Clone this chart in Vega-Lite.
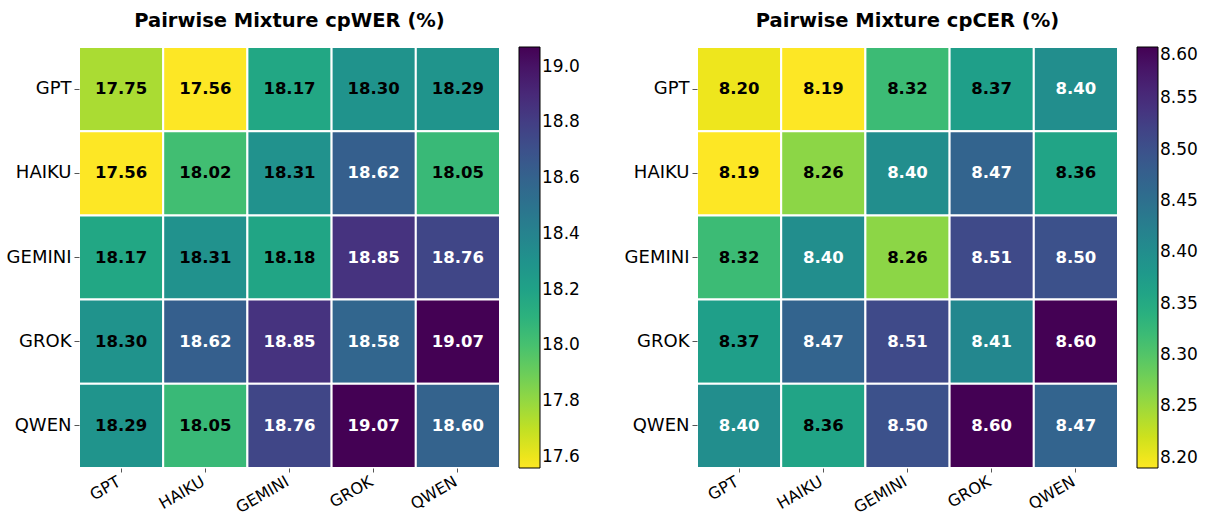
{
  "$schema": "https://vega.github.io/schema/vega-lite/v6.json",
  "padding": {"left": 6, "top": 10, "right": 5, "bottom": 0},
  "background": "white",
  "data": {"values": [
    {"row": "GPT", "col": "GPT", "wer": 17.75, "cer": 8.20},
    {"row": "GPT", "col": "HAIKU", "wer": 17.56, "cer": 8.19},
    {"row": "GPT", "col": "GEMINI", "wer": 18.17, "cer": 8.32},
    {"row": "GPT", "col": "GROK", "wer": 18.30, "cer": 8.37},
    {"row": "GPT", "col": "QWEN", "wer": 18.29, "cer": 8.40},
    {"row": "HAIKU", "col": "GPT", "wer": 17.56, "cer": 8.19},
    {"row": "HAIKU", "col": "HAIKU", "wer": 18.02, "cer": 8.26},
    {"row": "HAIKU", "col": "GEMINI", "wer": 18.31, "cer": 8.40},
    {"row": "HAIKU", "col": "GROK", "wer": 18.62, "cer": 8.47},
    {"row": "HAIKU", "col": "QWEN", "wer": 18.05, "cer": 8.36},
    {"row": "GEMINI", "col": "GPT", "wer": 18.17, "cer": 8.32},
    {"row": "GEMINI", "col": "HAIKU", "wer": 18.31, "cer": 8.40},
    {"row": "GEMINI", "col": "GEMINI", "wer": 18.18, "cer": 8.26},
    {"row": "GEMINI", "col": "GROK", "wer": 18.85, "cer": 8.51},
    {"row": "GEMINI", "col": "QWEN", "wer": 18.76, "cer": 8.50},
    {"row": "GROK", "col": "GPT", "wer": 18.30, "cer": 8.37},
    {"row": "GROK", "col": "HAIKU", "wer": 18.62, "cer": 8.47},
    {"row": "GROK", "col": "GEMINI", "wer": 18.85, "cer": 8.51},
    {"row": "GROK", "col": "GROK", "wer": 18.58, "cer": 8.41},
    {"row": "GROK", "col": "QWEN", "wer": 19.07, "cer": 8.60},
    {"row": "QWEN", "col": "GPT", "wer": 18.29, "cer": 8.40},
    {"row": "QWEN", "col": "HAIKU", "wer": 18.05, "cer": 8.36},
    {"row": "QWEN", "col": "GEMINI", "wer": 18.76, "cer": 8.50},
    {"row": "QWEN", "col": "GROK", "wer": 19.07, "cer": 8.60},
    {"row": "QWEN", "col": "QWEN", "wer": 18.60, "cer": 8.47}
  ]},
  "resolve": {"scale": {"color": "independent"}, "legend": {"color": "independent"}},
  "spacing": 44,
  "hconcat": [
    {
      "width": 421,
      "height": 421,
      "title": {"text": "Pairwise Mixture cpWER (%)"},
      "encoding": {
        "x": {"field": "col", "type": "nominal", "sort": ["GPT", "HAIKU", "GEMINI", "GROK", "QWEN"], "title": null},
        "y": {"field": "row", "type": "nominal", "sort": ["GPT", "HAIKU", "GEMINI", "GROK", "QWEN"], "title": null}
      },
      "layer": [
        {
          "mark": {"type": "rect", "stroke": "white", "strokeWidth": 2},
          "encoding": {
            "color": {"field": "wer", "type": "quantitative",
              "scale": {"scheme": "viridis", "reverse": true, "domain": [17.56, 19.07]},
              "legend": {"title": null, "values": [17.6, 17.8, 18.0, 18.2, 18.4, 18.6, 18.8, 19.0], "format": ".1f"}}
          }
        },
        {
          "mark": {"type": "text", "fontWeight": "bold", "fontSize": 16.5, "font": "DejaVu Sans"},
          "encoding": {
            "text": {"field": "wer", "type": "quantitative", "format": ".2f"},
            "color": {"condition": {"test": "datum.wer > 18.315", "value": "white"}, "value": "black"}
          }
        }
      ]
    },
    {
      "width": 421,
      "height": 421,
      "title": {"text": "Pairwise Mixture cpCER (%)"},
      "encoding": {
        "x": {"field": "col", "type": "nominal", "sort": ["GPT", "HAIKU", "GEMINI", "GROK", "QWEN"], "title": null},
        "y": {"field": "row", "type": "nominal", "sort": ["GPT", "HAIKU", "GEMINI", "GROK", "QWEN"], "title": null}
      },
      "layer": [
        {
          "mark": {"type": "rect", "stroke": "white", "strokeWidth": 2},
          "encoding": {
            "color": {"field": "cer", "type": "quantitative",
              "scale": {"scheme": "viridis", "reverse": true, "domain": [8.19, 8.60]},
              "legend": {"title": null, "values": [8.20, 8.25, 8.30, 8.35, 8.40, 8.45, 8.50, 8.55, 8.60], "format": ".2f"}}
          }
        },
        {
          "mark": {"type": "text", "fontWeight": "bold", "fontSize": 16.5, "font": "DejaVu Sans"},
          "encoding": {
            "text": {"field": "cer", "type": "quantitative", "format": ".2f"},
            "color": {"condition": {"test": "datum.cer > 8.395", "value": "white"}, "value": "black"}
          }
        }
      ]
    }
  ],
  "config": {
    "font": "DejaVu Sans",
    "view": {"stroke": null},
    "title": {"fontSize": 19.5, "fontWeight": "bold", "font": "DejaVu Sans", "color": "black", "offset": 15, "anchor": "middle", "frame": "group"},
    "axis": {
      "labelFont": "DejaVu Sans", "labelFontSize": 18, "labelColor": "black",
      "domain": false, "ticks": true, "tickSize": 5, "tickColor": "#555555", "tickWidth": 1,
      "labelPadding": 3, "grid": false
    },
    "axisX": {"labelAngle": -30, "labelAlign": "right", "labelBaseline": "top", "labelPadding": 1, "labelOffset": -6, "tickSize": 4, "labelFontSize": 16},
    "axisY": {"labelAngle": 0},
    "legend": {
      "orient": "right", "offset": 19, "direction": "vertical",
      "gradientLength": 421, "gradientThickness": 21,
      "gradientStrokeColor": "black", "gradientStrokeWidth": 1,
      "labelFont": "DejaVu Sans", "labelFontSize": 17, "labelColor": "black", "labelOffset": 13,
      "padding": 0
    }
  }
}
